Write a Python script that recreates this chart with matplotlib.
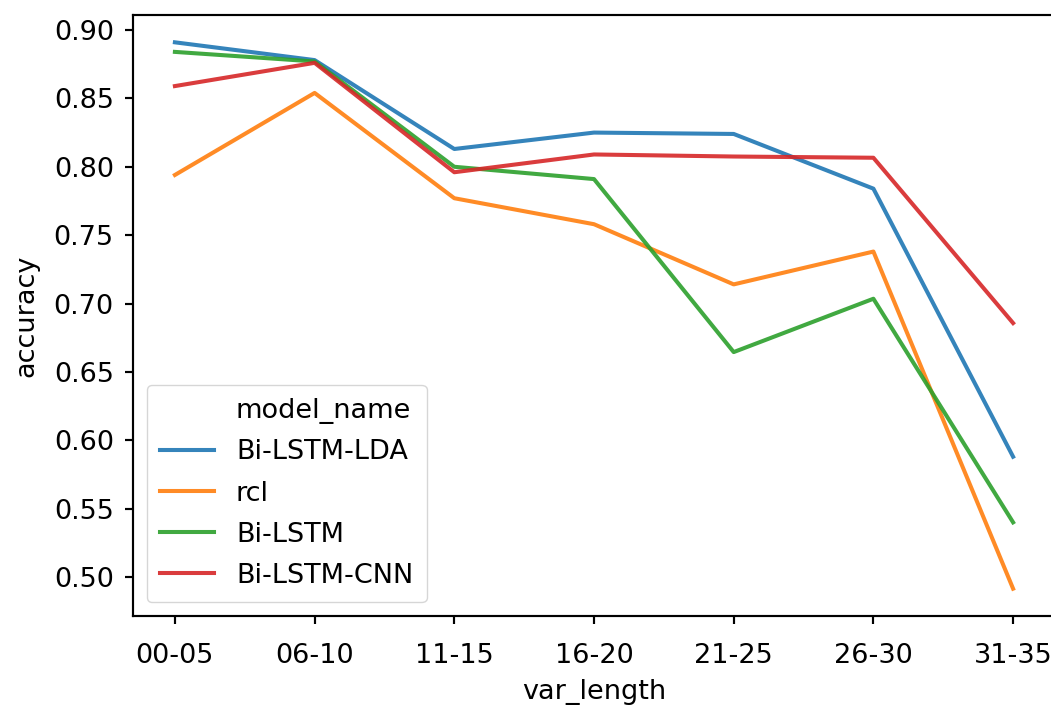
import matplotlib
matplotlib.use('Agg')
import matplotlib.pyplot as plt
from matplotlib.lines import Line2D

# accuracy by variable length bucket
var_length = ['00-05', '06-10', '11-15', '16-20', '21-25', '26-30', '31-35']
models = ['Bi-LSTM-LDA', 'rcl', 'Bi-LSTM', 'Bi-LSTM-CNN']
bi_lstm_lda = [0.891, 0.878, 0.813, 0.825, 0.824, 0.784, 0.588]
rcl = [0.794, 0.854, 0.777, 0.758, 0.714, 0.738, 0.4915]
bi_lstm = [0.884, 0.877, 0.800, 0.791, 0.6645, 0.7035, 0.540]
bi_lstm_cnn = [0.859, 0.876, 0.796, 0.809, 0.8075, 0.8066, 0.6857]
series = [bi_lstm_lda, rcl, bi_lstm, bi_lstm_cnn]
colors = ['#1f77b4', '#ff7f0e', '#2ca02c', '#d62728']

s = 1.95  # upscale factor of the screenshot
plt.rcParams['font.size'] = 10 * s
plt.rcParams['axes.linewidth'] = 0.8 * s

fig = plt.figure(figsize=(10.51, 7.08), dpi=100)
ax = fig.add_axes([133 / 1051, 92 / 708, 922 / 1051, 601 / 708])

x = list(range(len(var_length)))
handles = [Line2D([], [], linestyle='none', marker=None)]
labels = ['model_name']
for name, vals, c in zip(models, series, colors):
    line, = ax.plot(x, vals, color=c, lw=1.5 * s, alpha=0.9)
    handles.append(line)
    labels.append(name)

ax.set_xticks(x)
ax.set_xticklabels(var_length)
ax.set_yticks([0.50, 0.55, 0.60, 0.65, 0.70, 0.75, 0.80, 0.85, 0.90])
ax.margins(x=0.05, y=0.05)
ax.tick_params(length=5.5, width=0.8 * s)
ax.tick_params(axis='x', pad=14)
ax.tick_params(axis='y', pad=8.3)
ax.set_xlabel('var_length', labelpad=7)
ax.set_ylabel('accuracy', labelpad=10)

ax.legend(handles, labels, loc='lower left', fontsize=10 * s,
          handlelength=2.0, borderpad=0.5, labelspacing=0.56,
          borderaxespad=0.5)

fig.savefig('out.png', dpi=100)
